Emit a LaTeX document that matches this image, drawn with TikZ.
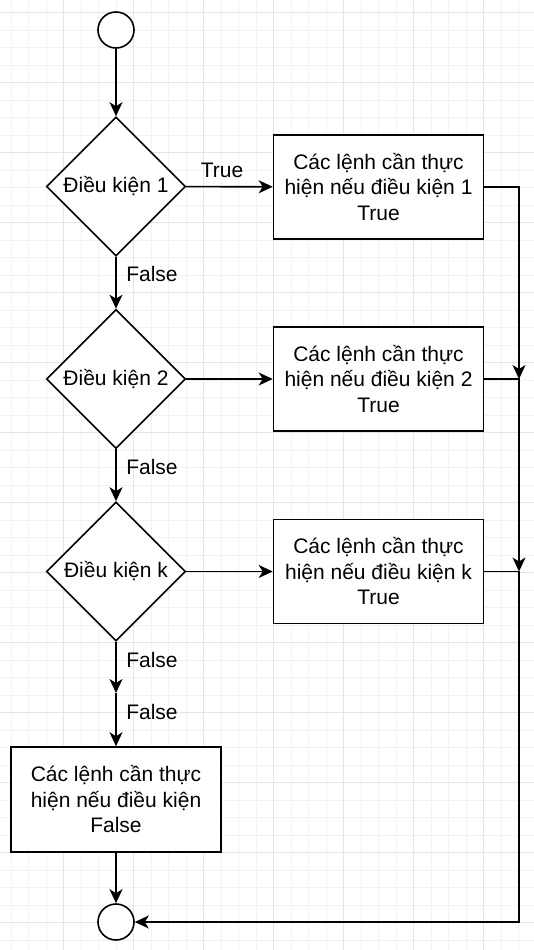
\documentclass[tikz,border=0pt]{standalone}
\usepackage{fontspec}
\setmainfont{Liberation Sans}
\usetikzlibrary{shapes.geometric,arrows.meta}
\begin{document}
\begin{tikzpicture}[x=1pt,y=-1pt,
  every node/.style={font=\fontsize{21}{25.5}\selectfont},
  conn/.style={line width=1.6pt, -{Stealth[length=14pt,width=13pt,inset=4pt]}},
  dia/.style={diamond, draw, line width=1.6pt, fill=white, minimum width=139pt, minimum height=139pt, inner sep=0pt, aspect=1},
  box/.style={rectangle, draw, line width=1.6pt, fill=white, minimum width=210pt, minimum height=104pt, align=center, inner sep=0pt},
  term/.style={circle, draw, line width=1.6pt, fill=white, minimum size=36pt, inner sep=0pt},
  lbl/.style={inner sep=0pt},
  minorgrid/.style={draw=black!5, line width=0.8pt},
  majorgrid/.style={draw=black!10, line width=0.8pt}]
\useasboundingbox (0,0) rectangle (534,950);
\fill[white] (0,0) rectangle (534,950);
% grid
\foreach \k in {0,...,29} { \draw[minorgrid] ({11+17.5*\k},0) -- ({11+17.5*\k},950); }
\foreach \k in {0,...,53} { \draw[minorgrid] (0,{12.5+17.5*\k}) -- (534,{12.5+17.5*\k}); }
\foreach \k in {0,...,6} { \draw[majorgrid] ({63.5+70*\k},0) -- ({63.5+70*\k},950); }
\foreach \k in {0,...,13} { \draw[majorgrid] (0,{12.5+70*\k}) -- (534,{12.5+70*\k}); }

% nodes
\node[term] (s) at (116,30) {};
\node[dia] (d1) at (116,186.5) {Điều kiện 1};
\node[dia] (d2) at (116,379) {Điều kiện 2};
\node[dia] (dk) at (116,571.5) {Điều kiện k};
\node[box] (r1) at (378.5,187) {Các lệnh cần thực\\hiện nếu điều kiện 1\\True};
\node[box] (r2) at (378.5,379) {Các lệnh cần thực\\hiện nếu điều kiện 2\\True};
\node[box] (rk) at (378.5,571.5) {Các lệnh cần thực\\hiện nếu điều kiện k\\True};
\node[box, minimum height=105pt] (rf) at (116,799.5) {Các lệnh cần thực\\hiện nếu điều kiện\\False};
\node[term] (e) at (116,922) {};
\coordinate (m) at (116,693);
\coordinate (j1) at (519,379);
\coordinate (j2) at (519,571.5);
\coordinate (c3) at (519,922);

% connectors
\draw[conn] (s) -- (d1);
\draw[conn] (d1) -- (d2);
\draw[conn] (d2) -- (dk);
\draw[conn] (dk) -- (m);
\draw[conn] (m) -- (rf);
\draw[conn] (rf) -- (e);
\draw[conn] (d1) -- (r1);
\draw[conn] (d2) -- (r2);
\draw[conn] (dk) -- (rk);
\draw[conn] (r1.east) -| (j1);
\draw[conn] (r2.east) -- (j1) -- (j2);
\draw[conn] (rk.east) -- (j2) -- (c3) -- (e);

% labels
\node[lbl] (t1) at (222,170) {True};
\node[lbl] (f1) at (152,274) {False};
\node[lbl] (f2) at (152,467) {False};
\node[lbl] (f3) at (152,660) {False};
\node[lbl] (f4) at (152,712) {False};
\end{tikzpicture}
\end{document}
